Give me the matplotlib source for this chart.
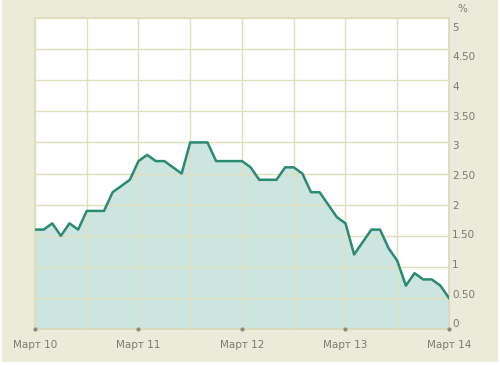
import numpy as np
import matplotlib.pyplot as plt
from matplotlib.patches import Rectangle

# monthly values, Jan 2010 .. Jan 2014 (percent)
values = [
    1.6, 1.6, 1.7, 1.5, 1.7, 1.6, 1.9, 1.9, 1.9, 2.2, 2.3, 2.4,
    2.7, 2.8, 2.7, 2.7, 2.6, 2.5, 3.0, 3.0, 3.0, 2.7, 2.7, 2.7,
    2.7, 2.6, 2.4, 2.4, 2.4, 2.6, 2.6, 2.5, 2.2, 2.2, 2.0, 1.8,
    1.7, 1.2, 1.4, 1.6, 1.6, 1.3, 1.1, 0.7, 0.9, 0.8, 0.8, 0.7,
    0.5,
]
x_labels = ["Март 10", "Март 11", "Март 12", "Март 13", "Март 14"]
y_ticks = [0, 0.5, 1, 1.5, 2, 2.5, 3, 3.5, 4, 4.5, 5]
y_labels = ["0", "0.50", "1", "1.50", "2", "2.50", "3", "3.50", "4", "4.50", "5"]

BG = "#ecebd9"
GRID = "#e0dfbe"
LINE = "#2a8a72"
FILL = "#cde5e0"
TEXT = "#7c7c76"

fig = plt.figure(figsize=(5, 3.65), dpi=100, facecolor="white")
fig.patches.append(Rectangle((0.004, 0.008), 0.992, 0.992, transform=fig.transFigure,
                             facecolor=BG, edgecolor="none", zorder=-1))

ax = fig.add_axes([0.07, 0.098, 0.828, 0.853])
ax.set_facecolor("white")

x = np.arange(len(values))
ax.fill_between(x, 0, values, color=FILL, linewidth=0, zorder=1)
ax.plot(x, values, color=LINE, linewidth=1.8, solid_joinstyle="round", zorder=3)

ax.set_xlim(0, len(values) - 1)
ax.set_ylim(0, 5)

ax.set_xticks(np.arange(0, len(values), 6))
ax.set_yticks(y_ticks)
ax.set_xticklabels([])
ax.set_yticklabels([])
ax.tick_params(length=0)
ax.grid(True, color=GRID, linewidth=1.0, zorder=2)
ax.set_axisbelow(False)
for s in ax.spines.values():
    s.set_color("#d9d8b6")
    s.set_linewidth(1.2)

# year labels with small dots on the axis
for i, lab in enumerate(x_labels):
    xi = i * 12
    ax.plot([xi], [0], marker="o", markersize=2, color="#8a8a80", clip_on=False, zorder=4)
    ax.text(xi, -0.17, lab, ha="center", va="top", fontsize=7.5, color=TEXT,
            family="DejaVu Sans", transform=ax.transData)

# y labels sit slightly off the grid lines, right of the plot
for v, lab in zip(y_ticks, y_labels):
    yf = 0.016 + v / 5 * 0.952
    ax.text(1.008, yf, lab, ha="left", va="center", fontsize=7.5, color=TEXT,
            transform=ax.transAxes)
ax.text(1.02, 1.03, "%", ha="left", va="center", fontsize=7.5, color=TEXT,
        transform=ax.transAxes)

fig.savefig("out.png", dpi=100, facecolor="white")
